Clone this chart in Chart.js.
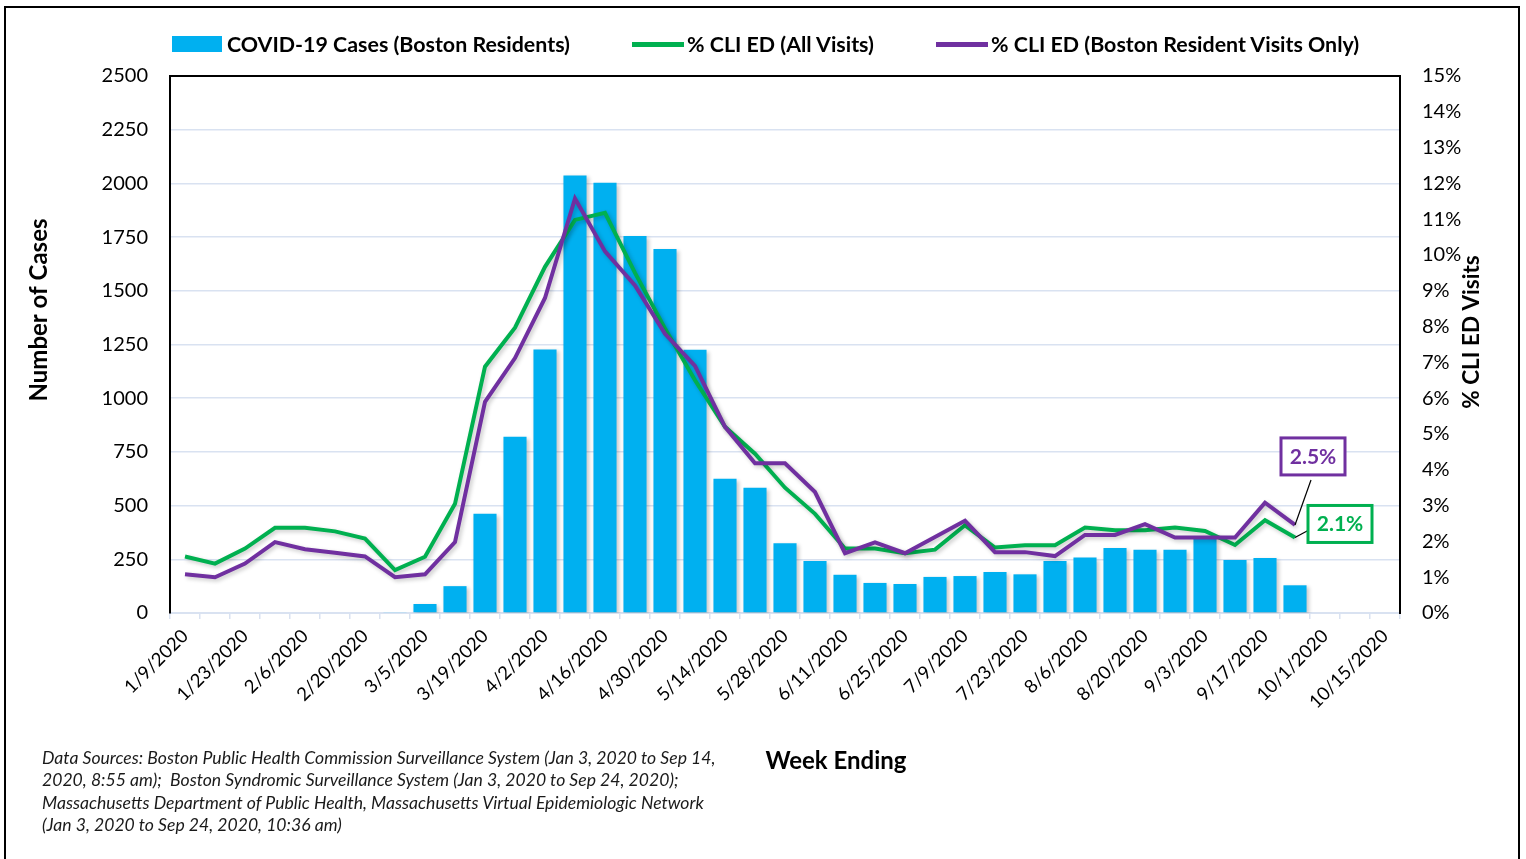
<!DOCTYPE html>
<html>
<head>
<meta charset="utf-8">
<script src="https://cdn.jsdelivr.net/npm/chart.js@4.4.1/dist/chart.umd.min.js"></script>
<style>
    html, body { margin: 0; padding: 0; background: #fff; }
    #wrap { position: relative; width: 1526px; height: 859px; overflow: hidden; }
    #frame {
        position: absolute; left: 4px; top: 6px; width: 1516px; height: 860px;
        border: 2px solid #000; box-sizing: border-box; pointer-events: none;
    }
    #chart { position: absolute; left: 0; top: 0; }
    #legend {
        position: absolute; left: 0; top: 30px; width: 1526px; height: 30px;
        font-family: Lato, "Open Sans", sans-serif; font-weight: bold; font-size: 21.4px; color: #000;
    }
    #legend .item { position: absolute; top: 0; line-height: 28px; white-space: nowrap; }
    #legend .swatch { position: absolute; }
    #sources {
        position: absolute; left: 42px; top: 747px;
        font-family: Lato, "Open Sans", sans-serif; font-style: italic;
        font-size: 17.6px; line-height: 22.4px; color: #1a1a1a; white-space: nowrap;
    }
</style>
</head>
<body>
<div id="wrap">
    <canvas id="chart" width="1526" height="859"></canvas>
    <div id="legend"></div>
    <div id="frame"></div>
    <div id="sources">
        Data Sources: Boston Public Health Commission Surveillance System (Jan 3, 2020 to Sep 14,<br>
        2020, 8:55 am);&nbsp; Boston Syndromic Surveillance System (Jan 3, 2020 to Sep 24, 2020);<br>
        Massachusetts Department of Public Health, Massachusetts Virtual Epidemiologic Network<br>
        (Jan 3, 2020 to Sep 24, 2020, 10:36 am)
    </div>
</div>
<script>
// Недели (окончание недели)
const weeks = [
    '1/9/2020', '1/16/2020', '1/23/2020', '1/30/2020', '2/6/2020', '2/13/2020', '2/20/2020',
    '2/27/2020', '3/5/2020', '3/12/2020', '3/19/2020', '3/26/2020', '4/2/2020', '4/9/2020',
    '4/16/2020', '4/23/2020', '4/30/2020', '5/7/2020', '5/14/2020', '5/21/2020', '5/28/2020',
    '6/4/2020', '6/11/2020', '6/18/2020', '6/25/2020', '7/2/2020', '7/9/2020', '7/16/2020',
    '7/23/2020', '7/30/2020', '8/6/2020', '8/13/2020', '8/20/2020', '8/27/2020', '9/3/2020',
    '9/10/2020', '9/17/2020', '9/24/2020', '10/1/2020', '10/8/2020', '10/15/2020'
];

// Случаи COVID-19 (жители Бостона)
const cases = [
    0, 0, 0, 0, 0, 0, 0, 3, 42, 125, 462, 820, 1227, 2037,
    2003, 1755, 1695, 1225, 625, 583, 325, 242, 178, 140, 135, 168,
    172, 191, 180, 242, 258, 303, 295, 295, 345, 247, 256, 129,
    null, null, null
];

// % CLI ED (все визиты)
const cliAll = [
    1.58, 1.38, 1.80, 2.38, 2.38, 2.28, 2.08, 1.20, 1.57, 3.05, 6.88, 7.97, 9.67, 10.98,
    11.18, 9.50, 7.95, 6.50, 5.20, 4.45, 3.50, 2.77, 1.80, 1.80, 1.67, 1.77, 2.45, 1.83,
    1.89, 1.89, 2.39, 2.31, 2.31, 2.39, 2.29, 1.90, 2.59, 2.11, null, null, null
];

// % CLI ED (только визиты жителей Бостона)
const cliBoston = [
    1.08, 1.00, 1.38, 1.98, 1.78, 1.68, 1.58, 1.00, 1.08, 1.98, 5.90, 7.12, 8.80, 11.58,
    10.10, 9.15, 7.80, 6.90, 5.20, 4.18, 4.18, 3.38, 1.67, 1.97, 1.67, 2.12, 2.58, 1.70,
    1.70, 1.59, 2.18, 2.18, 2.48, 2.11, 2.11, 2.11, 3.08, 2.46, null, null, null
];

const seriesNames = [
    'COVID-19 Cases (Boston Residents)',
    '% CLI ED (All Visits)',
    '% CLI ED (Boston Resident Visits Only)'
];

const BLUE = '#00B0F0';
const GREEN = '#00B050';
const PURPLE = '#7030A0';
const GRID = '#D9E2F1';
const FONT = 'Lato, "Open Sans", sans-serif';

// Легенда в HTML: позиции как в оригинале
function buildLegend() {
    const legend = document.getElementById('legend');
    const items = [
        { name: seriesNames[0], color: BLUE, box: [172, 6, 50, 16], text: 227 },
        { name: seriesNames[1], color: GREEN, box: [632, 12, 52, 5], text: 687 },
        { name: seriesNames[2], color: PURPLE, box: [936, 12, 52, 5], text: 991 }
    ];
    items.forEach(it => {
        const sw = document.createElement('div');
        sw.className = 'swatch';
        sw.style.left = it.box[0] + 'px';
        sw.style.top = it.box[1] + 'px';
        sw.style.width = it.box[2] + 'px';
        sw.style.height = it.box[3] + 'px';
        sw.style.background = it.color;
        legend.appendChild(sw);

        const label = document.createElement('div');
        label.className = 'item';
        label.style.left = it.text + 'px';
        label.textContent = it.name;
        legend.appendChild(label);
    });
}
buildLegend();

// Тени для серий, как в Excel
const shadows = {
    id: 'shadows',
    beforeDatasetDraw(chart) {
        const ctx = chart.ctx;
        ctx.save();
        ctx.shadowColor = 'rgba(0,0,0,0.22)';
        ctx.shadowBlur = 4;
        ctx.shadowOffsetX = 2;
        ctx.shadowOffsetY = 2;
    },
    afterDatasetDraw(chart) {
        chart.ctx.restore();
    }
};

// Рамка, заголовки осей и подписи последних значений
const decorations = {
    id: 'decorations',
    afterDatasetsDraw(chart) {
        const ctx = chart.ctx;
        const area = chart.chartArea;

        ctx.save();
        ctx.strokeStyle = '#000';
        ctx.lineWidth = 2;
        ctx.beginPath();
        ctx.moveTo(area.left, area.top);
        ctx.lineTo(area.right, area.top);
        ctx.stroke();

        // последние значения
        const lastIndex = 37;
        const labelBox = (dsIndex, color, text, dx, dy, lx, ly) => {
            const pt = chart.getDatasetMeta(dsIndex).data[lastIndex];
            const px = pt.x, py = pt.y;
            ctx.strokeStyle = '#000';
            ctx.lineWidth = 1.2;
            ctx.beginPath();
            ctx.moveTo(px + lx, py + ly);
            ctx.lineTo(px, py);
            ctx.stroke();
            ctx.fillStyle = '#fff';
            ctx.fillRect(px + dx, py + dy, 64, 37);
            ctx.strokeStyle = color;
            ctx.lineWidth = 3;
            ctx.strokeRect(px + dx, py + dy, 64, 37);
            ctx.fillStyle = color;
            ctx.font = 'bold 21px ' + FONT;
            ctx.textAlign = 'center';
            ctx.textBaseline = 'middle';
            ctx.fillText(text, px + dx + 32, py + dy + 19);
        };
        labelBox(2, PURPLE, cliBoston[lastIndex].toFixed(1) + '%', -14, -87, 16, -45);
        labelBox(1, GREEN, cliAll[lastIndex].toFixed(1) + '%', 13, -32, 13, -7);

        // заголовки осей
        ctx.fillStyle = '#000';
        ctx.textAlign = 'center';
        ctx.textBaseline = 'middle';
        ctx.font = 'bold 24px ' + FONT;
        ctx.save();
        ctx.translate(area.left - 131, area.top + 234);
        ctx.rotate(-Math.PI / 2);
        ctx.fillText('Number of Cases', 0, 0);
        ctx.restore();

        ctx.font = 'bold 22.5px ' + FONT;
        ctx.save();
        ctx.translate(area.right + 72, area.top + 256);
        ctx.rotate(-Math.PI / 2);
        ctx.fillText('% CLI ED Visits', 0, 0);
        ctx.restore();

        ctx.font = 'bold 24px ' + FONT;
        ctx.fillText('Week Ending', area.left + 666, 761);
        ctx.restore();
    }
};

const ctx = document.getElementById('chart').getContext('2d');
new Chart(ctx, {
    data: {
        labels: weeks,
        datasets: [
            {
                type: 'bar',
                label: seriesNames[0],
                data: cases,
                yAxisID: 'y',
                backgroundColor: BLUE,
                borderWidth: 0,
                categoryPercentage: 1,
                barPercentage: 0.77,
                order: 3
            },
            {
                type: 'line',
                label: seriesNames[1],
                data: cliAll,
                yAxisID: 'y1',
                borderColor: GREEN,
                backgroundColor: GREEN,
                borderWidth: 4,
                pointRadius: 0,
                tension: 0,
                order: 2
            },
            {
                type: 'line',
                label: seriesNames[2],
                data: cliBoston,
                yAxisID: 'y1',
                borderColor: PURPLE,
                backgroundColor: PURPLE,
                borderWidth: 4,
                pointRadius: 0,
                tension: 0,
                order: 1
            }
        ]
    },
    options: {
        responsive: false,
        animation: false,
        layout: { padding: { top: 76, left: 0, right: 0, bottom: 0 } },
        plugins: {
            tooltip: { enabled: false },
            legend: { display: false }
        },
        scales: {
            x: {
                offset: true,
                grid: {
                    offset: true,
                    drawOnChartArea: false,
                    drawTicks: true,
                    tickLength: 6,
                    color: GRID,
                    lineWidth: 1.5
                },
                border: { color: GRID, width: 2 },
                ticks: {
                    autoSkip: false,
                    minRotation: 45,
                    maxRotation: 45,
                    padding: 6,
                    color: '#000',
                    font: { family: FONT, size: 18.5 },
                    callback: function (value, index) {
                        return index % 2 === 0 ? this.getLabelForValue(value) : '';
                    }
                },
                afterFit: (scale) => { scale.height = 246; }
            },
            y: {
                position: 'left',
                min: 0,
                max: 2500,
                ticks: {
                    stepSize: 250,
                    padding: 22,
                    color: '#000',
                    font: { family: FONT, size: 20 },
                    callback: (v) => String(v)
                },
                grid: { color: GRID, lineWidth: 1.5, drawTicks: false },
                border: { color: '#000', width: 2 },
                afterFit: (scale) => { scale.width = 170; }
            },
            y1: {
                position: 'right',
                min: 0,
                max: 15,
                ticks: {
                    stepSize: 1,
                    padding: 22,
                    color: '#000',
                    font: { family: FONT, size: 20 },
                    callback: (v) => v + '%'
                },
                grid: { drawOnChartArea: false, drawTicks: false },
                border: { color: '#000', width: 2 },
                afterFit: (scale) => { scale.width = 126; }
            }
        }
    },
    plugins: [shadows, decorations]
});
</script>
</body>
</html>
